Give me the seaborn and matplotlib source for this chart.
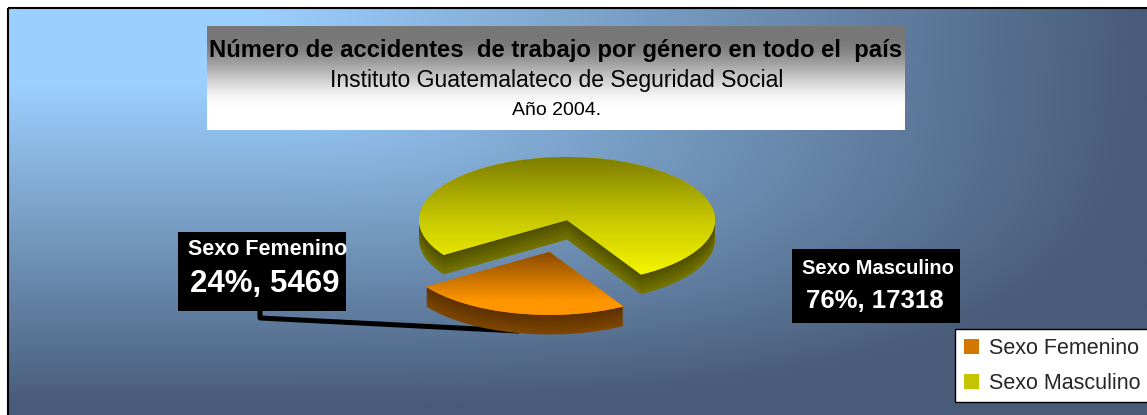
import numpy as np
import matplotlib
matplotlib.use('Agg')
import matplotlib.pyplot as plt
import seaborn as sns
from matplotlib.patches import Rectangle, Patch
from matplotlib.colors import to_rgb

# ---- data ----
categories = ['Sexo Femenino', 'Sexo Masculino']
values = [5469, 17318]
percents = ['24%', '76%']
title = 'Número de accidentes  de trabajo por género en todo el  país'
subtitle = 'Instituto Guatemalateco de Seguridad Social'
year_txt = 'Año 2004.'

sns.set_theme(style='white')
plt.rcParams['font.family'] = ['Liberation Sans', 'DejaVu Sans']

W, H = 1147, 415
fig = plt.figure(figsize=(W / 100, H / 100), dpi=100, facecolor='white')
bg = fig.add_axes([0, 0, 1, 1])
bg.axis('off')


def mix(c1, c2, f):
    a = np.array(to_rgb(c1)); b = np.array(to_rgb(c2))
    return tuple(a * (1 - f) + b * f)


# background gradient (light top-left, darker to the right and bottom)
px = np.linspace(8, W, 460)
py = np.linspace(8, H, 170)
xx, yy = np.meshgrid(px, py)
ga = np.clip((xx - 250) / 900.0, 0, 1)
gb = np.clip((yy - 85) / 330.0, 0, 1)
t = np.clip((ga ** 3 + gb ** 3) ** (1 / 3), 0, 1)
t = np.clip(t + 0.03 * (yy / H), 0, 1)
light = np.array(to_rgb('#9cd0ff')); dark = np.array(to_rgb('#485b78'))
img = light[None, None, :] * (1 - t[..., None]) + dark[None, None, :] * t[..., None]
bg.imshow(img, extent=(8, W + 2, H + 2, 8), aspect='auto', zorder=0, interpolation='bilinear')
bg.add_patch(Rectangle((8, 8), W, H, fill=False, edgecolor='black', lw=1.5, zorder=1))

# title box gradient
tt = np.linspace(0, 1, 200)
s = np.clip((tt - 0.1) / 0.7, 0, 1)
s = 3 * s ** 2 - 2 * s ** 3
gray = 0.47 + 0.53 * s
tb = np.repeat(gray[:, None, None], 3, axis=2)
bg.imshow(tb, extent=(207, 905, 130, 27), aspect='auto', zorder=2, interpolation='bilinear')
bg.text(556, 50, title, ha='center', va='center', fontsize=17.2, fontweight='bold', color='black', zorder=3)
bg.text(557, 80, subtitle, ha='center', va='center', fontsize=16.5, color='black', zorder=3)
bg.text(557, 110, year_txt, ha='center', va='center', fontsize=14, color='black', zorder=3)

# data label boxes
boxes = [(178, 232, 168, 79), (792, 249, 168, 74)]
name_pos = [(188, 249, 15.5), (802, 268, 14.5)]
val_pos = [(190, 284, 22.5), (806, 301, 18.5)]
for i in range(2):
    x0, y0, w, h = boxes[i]
    r = Rectangle((x0, y0), w, h, facecolor='black', edgecolor='none', zorder=5)
    bg.add_patch(r)
    tx, ty, fs = name_pos[i]
    t1 = bg.text(tx, ty, categories[i], ha='left', va='center', fontsize=fs,
                 fontweight='bold', color='white', zorder=6)
    t1.set_clip_path(r)
    vx, vy, vfs = val_pos[i]
    t2 = bg.text(vx, vy, f'{percents[i]}, {values[i]}', ha='left', va='center', fontsize=vfs,
                 fontweight='bold', color='white', zorder=6)
    t2.set_clip_path(r)

# leader line
bg.plot([260, 260, 518], [311, 318, 331], color='black', lw=3.6, solid_capstyle='round',
        solid_joinstyle='round', zorder=4)

# legend
handles = [Patch(facecolor='#d27800', edgecolor='none'),
           Patch(facecolor='#c4c400', edgecolor='none')]
leg = bg.legend(handles, categories, loc='upper left', bbox_to_anchor=(955, 329),
                bbox_transform=bg.transData, borderaxespad=0, fontsize=15.5,
                frameon=True, fancybox=False, shadow=False, framealpha=1,
                edgecolor='black', handlelength=0.7, handleheight=0.7,
                handletextpad=0.5, labelspacing=0.66, borderpad=0.4)
leg.get_frame().set_linewidth(1.0)
leg.set_zorder(10)

bg.set_xlim(0, W); bg.set_ylim(H, 0)
bg.set_aspect('auto')

# ---- 3D pie ----
cx, cy, rx, ry = 567, 220, 148, 63
ax = fig.add_axes([(cx - 2 * rx) / W, (H - (cy + 2 * ry)) / H, 4 * rx / W, 4 * ry / H])
ax.patch.set_alpha(0)
explode = [0.52, 0.0]
start = 213.6
depth = 0.31
N = 18
for k in range(N):
    f = k / (N - 1)
    d = depth * (1 - f) + 0.001
    cols = [mix('#7e4600', '#5c3000', f), mix('#747400', '#4e4e00', f)]
    wedges, _ = ax.pie(values, explode=explode, startangle=start, counterclock=True,
                       center=(0, -d), colors=cols, wedgeprops=dict(linewidth=0))
    wedges[0].set_zorder(3)
    wedges[1].set_zorder(1)

wedges, _ = ax.pie(values, explode=explode, startangle=start, counterclock=True,
                   center=(0, 0), colors=['#f09000', '#e0e000'], wedgeprops=dict(linewidth=0))
wedges[0].set_zorder(4)
wedges[1].set_zorder(2)

# gradient shading on tops
n = 200
ys = np.linspace(0, 1, n)
ycol = np.array([mix('#787800', '#c8c800', s_ / 0.5) if s_ < 0.5 else mix('#c8c800', '#ffff00', (s_ - 0.5) / 0.5)
                 for s_ in ys])
im1 = ax.imshow(ycol[:, None, :], extent=(-1.1, 1.1, -1.05, 1.05), origin='upper',
                aspect='auto', zorder=2.5, interpolation='bilinear')
im1.set_clip_path(wedges[1])
ocol = np.array([mix('#884800', '#ff9600', min(1, s_ / 0.75)) for s_ in ys])
im2 = ax.imshow(ocol[:, None, :], extent=(-1.2, 1.0, -1.55, -0.5), origin='upper',
                aspect='auto', zorder=4.5, interpolation='bilinear')
im2.set_clip_path(wedges[0])

ax.set_xlim(-2, 2); ax.set_ylim(-2, 2)
ax.set_aspect('auto')
ax.axis('off')

fig.savefig('out.png', dpi=100, facecolor='white')
